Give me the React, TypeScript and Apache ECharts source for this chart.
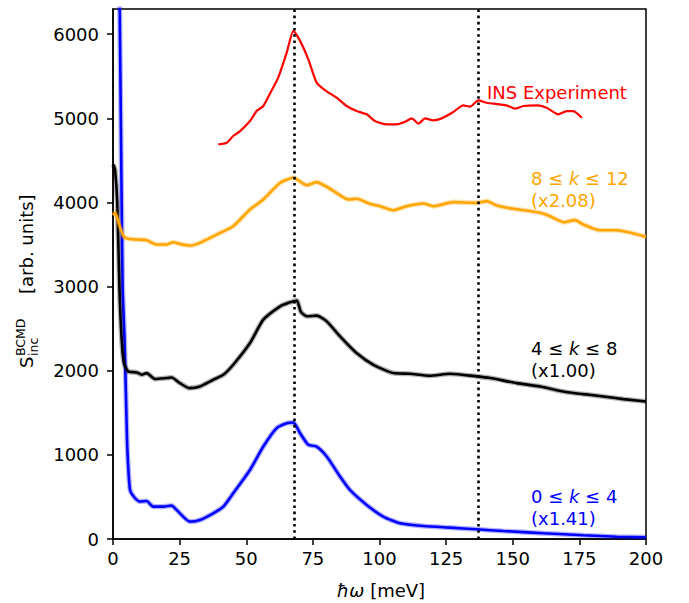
import React, { useEffect, useRef } from "react";
import * as echarts from "echarts";

const xTicks = [0, 25, 50, 75, 100, 125, 150, 175, 200];
const yTicks = [0, 1000, 2000, 3000, 4000, 5000, 6000];
const refLines = [68, 137];

const insX = [39.5, 42.7, 45.1, 47.7, 51.4, 53.9, 56.4, 59, 62, 65.2, 67.7, 70.2, 73.3, 76.4, 79.5, 83.9, 87.7, 91.4, 95.2, 98.3, 102.7, 106.5, 109.6, 112.1, 114.6, 117.1, 120.2, 123.3, 127.7, 131.4, 134, 137.1, 140.2, 147.7, 150.8, 154, 159, 162.7, 167.1, 170.2, 172.7, 175.9];
const insY = [4690, 4710, 4790, 4849, 4968, 5087, 5147, 5300, 5484, 5782, 6040, 5921, 5702, 5425, 5337, 5246, 5147, 5087, 5048, 4968, 4929, 4929, 4960, 5000, 4937, 5000, 4976, 5000, 5075, 5155, 5139, 5214, 5186, 5155, 5115, 5147, 5155, 5127, 5048, 5087, 5087, 5008];

const k812X = [0, 0.8, 2.5, 4.1, 5.7, 8.9, 12.6, 16.4, 20.1, 22.6, 25.5, 28.9, 32.6, 38.9, 45.1, 51.4, 56.4, 62.7, 67.7, 72.7, 76.4, 80.2, 84, 88.3, 91.4, 96.4, 100.2, 105.2, 110.2, 116.4, 120.2, 127.7, 136.5, 140.2, 144, 150.2, 160.2, 164, 169, 173.4, 176.5, 182.7, 189, 200];
const k812Y = [3850, 3877, 3720, 3592, 3568, 3560, 3552, 3500, 3500, 3527, 3505, 3488, 3520, 3619, 3718, 3917, 4036, 4234, 4294, 4206, 4242, 4187, 4110, 4036, 4044, 3984, 3956, 3908, 3956, 3988, 3956, 4004, 3996, 4016, 3964, 3925, 3877, 3837, 3766, 3790, 3738, 3670, 3670, 3592];

const k48X = [0.1, 0.75, 1.6, 2.4, 3.2, 4.1, 5.7, 8.9, 10.8, 12.6, 15.8, 20.1, 22, 25.1, 28.6, 32.6, 37.6, 41.4, 45.1, 51.4, 56.4, 62.7, 66, 67.7, 69, 70.5, 72.7, 76.4, 80.2, 85.2, 91.4, 97.7, 105.2, 111.4, 118.9, 126.5, 136.5, 141.5, 151.5, 160.2, 169, 176.5, 184, 191.5, 200];
const k48Y = [4452, 4393, 4000, 3000, 2400, 2091, 1992, 1980, 1952, 1972, 1901, 1913, 1920, 1853, 1794, 1813, 1893, 1952, 2071, 2329, 2607, 2766, 2810, 2825, 2835, 2700, 2647, 2655, 2587, 2408, 2210, 2071, 1972, 1964, 1940, 1964, 1933, 1913, 1853, 1813, 1754, 1722, 1694, 1663, 1635];

const k04X = [2.3, 3.0, 3.6, 4.3, 4.9, 5.4, 6.4, 8.3, 10.1, 12.6, 15.1, 18.9, 22, 23.9, 28.9, 32.6, 37.6, 41.4, 45.1, 51.4, 56.4, 61.4, 65.2, 67.7, 70.2, 73.3, 76.4, 80.2, 85.2, 88.9, 95.2, 101.4, 107.7, 116.4, 126.5, 136.5, 146.5, 161.5, 176.5, 189, 200];
const k04Y = [7000, 4800, 3000, 2400, 1655, 1060, 583, 484, 444, 452, 385, 385, 397, 345, 206, 226, 306, 385, 544, 821, 1099, 1318, 1377, 1385, 1258, 1119, 1099, 980, 742, 583, 405, 266, 187, 155, 135, 115, 95, 68, 44, 27, 20];

const zip = (xs: number[], ys: number[]) => xs.map((x, i) => [x, ys[i]]);

const FONT = "DejaVu Sans";

export default function App() {
  const ref = useRef<HTMLDivElement>(null);
  useEffect(() => {
    document.body.style.margin = "0";
    const chart = echarts.init(ref.current!, null, { renderer: "svg" });
    const line = (name: string, xs: number[], ys: number[], color: string, width: number, band: boolean) => {
      const out: any[] = [];
      const base = {
        type: "line",
        data: zip(xs, ys),
        showSymbol: false,
        symbol: "none",
        smooth: 0.2,
        silent: true,
      };
      if (band) {
        out.push({ ...base, name: name + "-band", lineStyle: { color, width: width + 2.5, opacity: 0.3 } });
      }
      out.push({ ...base, name, lineStyle: { color, width } });
      return out;
    };
    const series: any[] = [
      ...line("0≤k≤4", k04X, k04Y, "#0000ff", 2.6, true),
      ...line("4≤k≤8", k48X, k48Y, "#000000", 2.6, true),
      ...line("8≤k≤12", k812X, k812Y, "#ffa500", 2.6, true),
      ...line("INS Experiment", insX, insY, "#ff0000", 2.2, false),
    ];
    series.push({
      name: "refs",
      type: "line",
      data: [],
      silent: true,
      markLine: {
        silent: true,
        symbol: "none",
        label: { show: false },
        lineStyle: { type: [2.6, 3.6], color: "#000", width: 2.6, cap: "butt" },
        data: refLines.map((v) => ({ xAxis: v })),
      },
    });
    const annot = (x: number, y: number, text: string, color: string) => ({
      type: "text",
      x,
      y,
      style: {
        text,
        fill: color,
        fontSize: 18,
        fontFamily: FONT,
        align: "left",
        verticalAlign: "middle",
        lineHeight: 22,
        rich: { i: { fontStyle: "italic", fontSize: 18, fontFamily: FONT, fill: color } },
      },
    });
    chart.setOption({
      animation: false,
      backgroundColor: "#fff",
      grid: {
        left: 113,
        right: 43,
        top: 9,
        bottom: 64,
        show: true,
        borderColor: "#000",
        borderWidth: 1.5,
        backgroundColor: "transparent",
      },
      xAxis: {
        type: "value",
        min: 0,
        max: 200,
        interval: 25,
        splitLine: { show: false },
        axisLine: { show: true, onZero: false, lineStyle: { color: "#000", width: 1.5 } },
        axisTick: { show: true, length: 6, lineStyle: { color: "#000", width: 1.5 }, customValues: xTicks },
        axisLabel: { color: "#000", fontSize: 18, fontFamily: FONT, margin: 10, customValues: xTicks, formatter: (v: number) => String(v) },
      },
      yAxis: {
        type: "value",
        min: 0,
        max: 6300,
        interval: 1000,
        splitLine: { show: false },
        axisLine: { show: true, onZero: false, lineStyle: { color: "#000", width: 1.5 } },
        axisTick: { show: true, length: 6, lineStyle: { color: "#000", width: 1.5 }, customValues: yTicks },
        axisLabel: { color: "#000", fontSize: 18, fontFamily: FONT, margin: 14, customValues: yTicks, formatter: (v: number) => String(v) },
      },
      series,
      graphic: [
        annot(487, 92, "INS Experiment", "#ff0000"),
        annot(531, 189, "8 ≤ {i|k} ≤ 12\n(x2.08)", "#ffa500"),
        annot(531, 359, "4 ≤ {i|k} ≤ 8\n(x1.00)", "#000000"),
        annot(531, 507, "0 ≤ {i|k} ≤ 4\n(x1.41)", "#0000ff"),
        {
          type: "text",
          x: 381,
          y: 590,
          style: {
            text: "{i|ħω} [meV]",
            fill: "#000",
            fontSize: 18,
            fontFamily: FONT,
            align: "center",
            verticalAlign: "middle",
            rich: { i: { fontStyle: "italic", fontSize: 18, fontFamily: FONT, fill: "#000" } },
          },
        },
        {
          type: "group",
          x: 26,
          y: 280,
          rotation: Math.PI / 2,
          children: [
            { type: "text", x: -88, y: 0, style: { text: "S", fill: "#000", fontSize: 18, fontFamily: FONT, align: "left", verticalAlign: "middle" } },
            { type: "text", x: -76, y: -6, style: { text: "BCMD", fill: "#000", fontSize: 12.5, fontFamily: FONT, align: "left", verticalAlign: "middle" } },
            { type: "text", x: -76, y: 7, style: { text: "inc", fill: "#000", fontSize: 12.5, fontFamily: FONT, align: "left", verticalAlign: "middle" } },
            { type: "text", x: -14, y: 0, style: { text: "[arb. units]", fill: "#000", fontSize: 18, fontFamily: FONT, align: "left", verticalAlign: "middle" } },
          ],
        },
      ],
    });
    return () => chart.dispose();
  }, []);
  return <div ref={ref} style={{ position: "absolute", left: 0, top: 0, width: 689, height: 603 }} />;
}
